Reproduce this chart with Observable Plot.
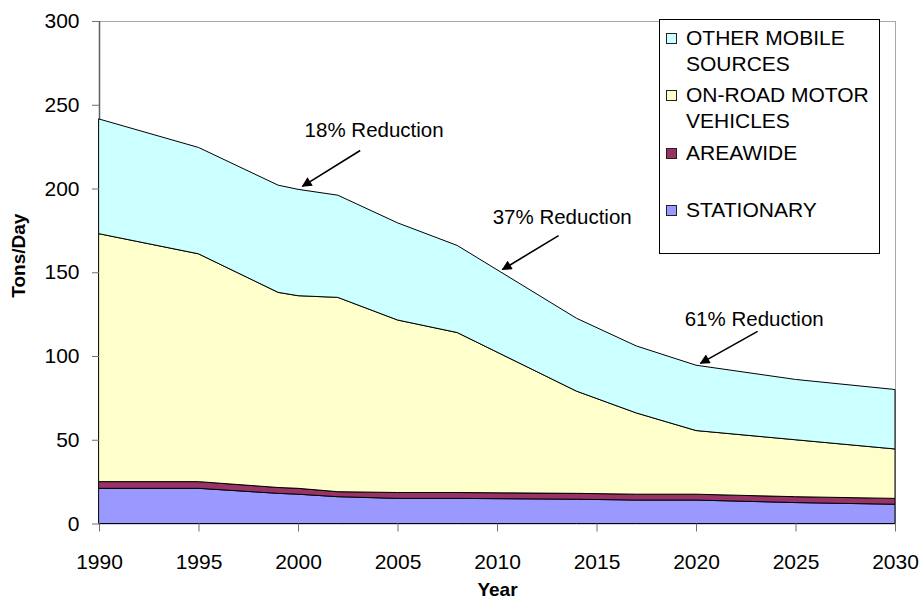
<!DOCTYPE html>
<html>
<head>
<meta charset="utf-8">
<script src="https://cdn.jsdelivr.net/npm/d3@7"></script>
<script src="https://cdn.jsdelivr.net/npm/@observablehq/plot@0.6"></script>
<style>
  body { margin: 0; background: #fff; }
  #wrap { position: relative; width: 923px; height: 604px; font-family: "Liberation Sans", Arial, sans-serif; }
  #legend { position: absolute; left: 659px; top: 19px; width: 219px; height: 233px; border: 1px solid #000; background: #fff; }
  .item { position: absolute; left: 0; font-size: 21px; line-height: 26px; color: #000; }
  .sw { position: absolute; left: 6px; top: 8px; width: 9px; height: 9px; border: 1px solid #222; }
  .lbl { position: absolute; left: 26px; top: 0; white-space: nowrap; }
</style>
</head>
<body>
<div id="wrap"></div>
<script>
// ---- data ----
const years = [1990, 1995, 1999, 2000, 2002, 2005, 2008, 2014, 2017, 2020, 2025, 2030];
const stationary  = [21, 21, 18, 17.5, 16, 15, 15, 14.5, 14, 14, 12.5, 11.5];
const areawide    = [4, 4, 3.5, 3.5, 3, 3.5, 3.5, 3.5, 3.5, 3.5, 3.5, 3.5];
const onRoad      = [148, 136, 116.5, 115, 116, 103, 95.5, 61, 48.5, 38, 34, 29.5];
const otherMobile = [68.5, 63.5, 64, 63.5, 61, 58, 52, 43.5, 40, 39, 36, 35.5];

const seriesNames  = ["STATIONARY", "AREAWIDE", "ON-ROAD MOTOR VEHICLES", "OTHER MOBILE SOURCES"];
const seriesColors = ["#9999FF", "#993366", "#FFFFCC", "#CCFFFF"];
const seriesValues = [stationary, areawide, onRoad, otherMobile];

const legendOrder = ["OTHER MOBILE SOURCES", "ON-ROAD MOTOR VEHICLES", "AREAWIDE", "STATIONARY"];
const legendLines = [["OTHER MOBILE", "SOURCES"], ["ON-ROAD MOTOR", "VEHICLES"], ["AREAWIDE"], ["STATIONARY"]];

const xTicks = [1990, 1995, 2000, 2005, 2010, 2015, 2020, 2025, 2030];
const yTicks = [0, 50, 100, 150, 200, 250, 300];

const annText   = ["18% Reduction", "37% Reduction", "61% Reduction"];
const annX      = [2003.8, 2013.25, 2022.9];
const annY      = [235, 183.2, 122.2];
const arrowX1   = [2003.1, 2013.07, 2023.07];
const arrowY1   = [223, 172.2, 115];
const arrowX2   = [2000.2, 2010.25, 2020.2];
const arrowY2   = [201.6, 151.9, 95.9];

const xTitle = "Year";
const yTitle = "Tons/Day";

// ---- tables ----
const rows = [];
seriesNames.forEach((s, si) => years.forEach((yr, i) => rows.push({year: yr, series: s, value: seriesValues[si][i]})));
const ann = annText.map((t, i) => ({text: t, x: annX[i], y: annY[i], x1: arrowX1[i], y1: arrowY1[i], x2: arrowX2[i], y2: arrowY2[i]}));

const chart = Plot.plot({
  width: 923,
  height: 604,
  marginLeft: 99,
  marginRight: 28,
  marginTop: 21,
  marginBottom: 80.5,
  style: {fontFamily: "'Liberation Sans', Arial, sans-serif", fontSize: "21px", background: "#fff", color: "#000"},
  x: {domain: [1990, 2030]},
  y: {domain: [0, 300]},
  color: {domain: seriesNames, range: seriesColors},
  marks: [
    Plot.frame({stroke: "#a8a8a8"}),
    Plot.ruleX([1990], {stroke: "#606060", strokeWidth: 1.5}),
    Plot.areaY(rows, {x: "year", y: "value", fill: "series", z: "series", order: seriesNames, stroke: "#000", strokeWidth: 1}),
    Plot.axisY({ticks: yTicks, tickSize: 7, tickPadding: 13, fontSize: 21, stroke: "#707070", fill: "#000", label: null}),
    Plot.axisX({ticks: xTicks, tickSize: 8, tickPadding: 22, fontSize: 21, tickFormat: "d", stroke: "#707070", fill: "#000", label: null}),
    Plot.text([yTitle], {frameAnchor: "left", rotate: -90, dx: -81, dy: 25, fontWeight: "bold", fontSize: 19, fill: "#000"}),
    Plot.text([xTitle], {frameAnchor: "bottom", dy: 72, fontWeight: "bold", fontSize: 19, fill: "#000"}),
    Plot.link(ann, {x1: "x1", y1: "y1", x2: "x2", y2: "y2", stroke: "#000", strokeWidth: 1.6}),
    Plot.text(ann, {x: "x", y: "y", text: "text", fontSize: 20.5, fill: "#000"})
  ]
});

// filled arrowheads on the links
const ns = "http://www.w3.org/2000/svg";
const defs = document.createElementNS(ns, "defs");
const marker = document.createElementNS(ns, "marker");
marker.setAttribute("id", "ahead");
marker.setAttribute("viewBox", "0 0 10 10");
marker.setAttribute("refX", "9");
marker.setAttribute("refY", "5");
marker.setAttribute("markerWidth", "13");
marker.setAttribute("markerHeight", "10");
marker.setAttribute("markerUnits", "userSpaceOnUse");
marker.setAttribute("orient", "auto");
const mp = document.createElementNS(ns, "path");
mp.setAttribute("d", "M0,0L10,5L0,10z");
mp.setAttribute("fill", "#000");
marker.appendChild(mp);
defs.appendChild(marker);
chart.insertBefore(defs, chart.firstChild);
chart.querySelectorAll('g[aria-label="link"] path').forEach(p => p.setAttribute("marker-end", "url(#ahead)"));

const wrap = document.getElementById("wrap");
wrap.appendChild(chart);

// legend
const legend = document.createElement("div");
legend.id = "legend";
legendOrder.forEach((name, i) => {
  const item = document.createElement("div");
  item.className = "item";
  item.style.top = (5 + i * 57.3) + "px";
  const sw = document.createElement("div");
  sw.className = "sw";
  sw.style.background = seriesColors[seriesNames.indexOf(name)];
  const lbl = document.createElement("div");
  lbl.className = "lbl";
  lbl.innerHTML = legendLines[i].join("<br>");
  item.appendChild(sw);
  item.appendChild(lbl);
  legend.appendChild(item);
});
wrap.appendChild(legend);
</script>
</body>
</html>
